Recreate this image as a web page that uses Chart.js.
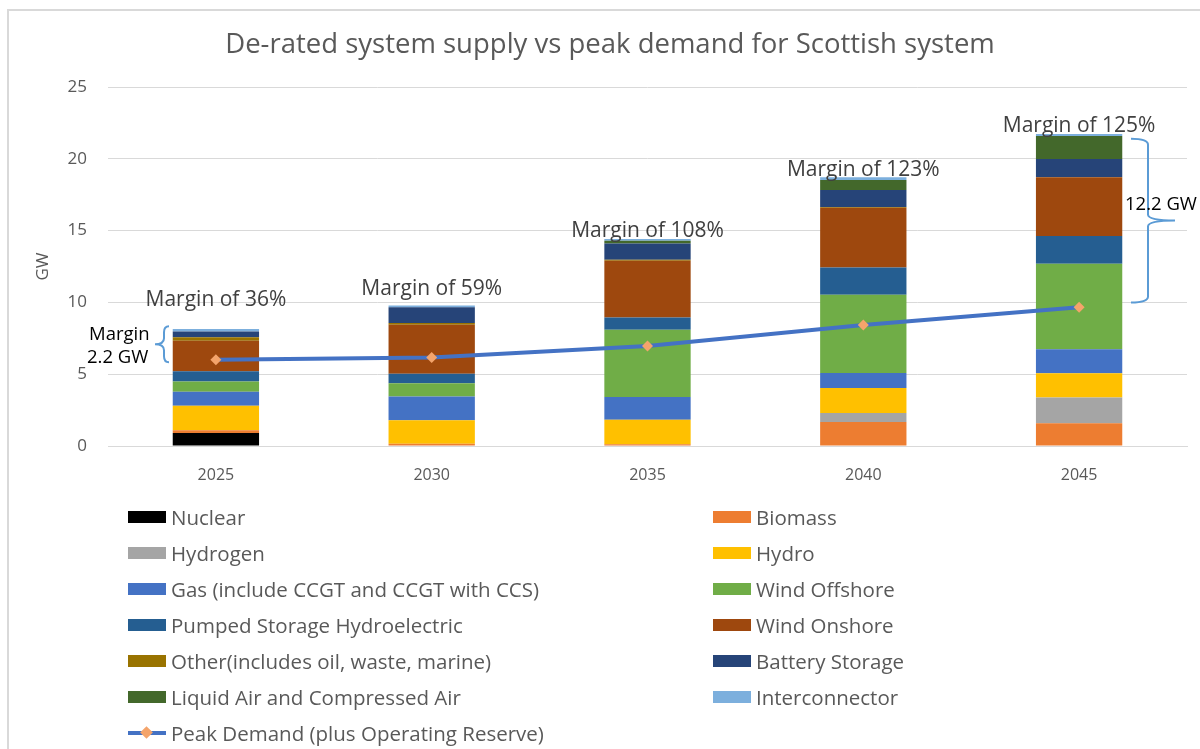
<!DOCTYPE html>
<html>
<head>
<meta charset="utf-8">
<script src="https://cdn.jsdelivr.net/npm/chart.js@4"></script>
<style>
  html, body { margin: 0; padding: 0; background: #fff; overflow: hidden; }
  body { width: 1200px; height: 749px; position: relative; font-family: "Open Sans", sans-serif; }
  #frame { position: absolute; left: 7px; top: 9px; width: 1300px; height: 900px; border: 2px solid #d9d9d9; box-sizing: border-box; }
  #chart { position: absolute; left: 0; top: 0; }
  .item { position: absolute; height: 24px; display: flex; align-items: center; font-size: 20.5px; color: #595959; white-space: nowrap; }
  .swatch { width: 38px; height: 12px; margin-right: 5px; }
  .lineKey { width: 38px; height: 4px; margin-right: 5px; position: relative; }
  .lineKey span { position: absolute; left: 14px; top: -3px; width: 9px; height: 9px; transform: rotate(45deg); }
</style>
</head>
<body>
<div id="frame"></div>
<canvas id="chart" width="1200" height="749"></canvas>
<div id="legend"></div>
<script>
const years = ['2025', '2030', '2035', '2040', '2045']

// de-rated capacity, GW
const nuclear        = [0.9, 0, 0, 0, 0]
const biomass        = [0.2, 0.16, 0.12, 1.67, 1.58]
const hydrogen       = [0, 0, 0, 0.63, 1.79]
const hydro          = [1.7, 1.64, 1.7, 1.74, 1.7]
const gas            = [0.97, 1.64, 1.6, 1.05, 1.67]
const windOffshore   = [0.72, 0.93, 4.67, 5.44, 5.95]
const pumpedStorage  = [0.72, 0.67, 0.86, 1.9, 1.93]
const windOnshore    = [2.12, 3.4, 3.95, 4.16, 4.09]
const other          = [0.25, 0.12, 0.07, 0.05, 0.03]
const battery        = [0.4, 1.1, 1.14, 1.18, 1.25]
const liquidAir      = [0, 0, 0.19, 0.7, 1.6]
const interconnector = [0.16, 0.12, 0.12, 0.19, 0.14]
const peakDemand     = [6.0, 6.16, 6.97, 8.42, 9.67]

const marginLabels = ['Margin of 36%', 'Margin of 59%', 'Margin of 108%', 'Margin of 123%', 'Margin of 125%']
const yTicks = [0, 5, 10, 15, 20, 25]

const bar = (label, data, color) => ({
    type: 'bar', label, data, backgroundColor: color, borderWidth: 0, order: 1,
    barPercentage: 0.4, categoryPercentage: 1
})

const fontFamily = '"Open Sans", sans-serif'

// text labels and the two curly brackets
const notes = {
    id: 'notes',
    afterDatasetsDraw(chart) {
        const { ctx, scales: { x, y } } = chart
        ctx.save()
        ctx.font = '21px ' + fontFamily
        ctx.fillStyle = '#404040'
        ctx.textAlign = 'center'
        ctx.textBaseline = 'middle'
        const labelY = [10.15, 10.9, 14.96, 19.2, 22.3]
        marginLabels.forEach((t, i) => ctx.fillText(t, x.getPixelForValue(i), y.getPixelForValue(labelY[i])))

        const brace = (xEnd, xSpine, xTip, top, bottom) => {
            const mid = (top + bottom) / 2
            const r = 6
            ctx.beginPath()
            ctx.moveTo(xEnd, top)
            ctx.quadraticCurveTo(xSpine, top, xSpine, top + r)
            ctx.lineTo(xSpine, mid - r)
            ctx.quadraticCurveTo(xSpine, mid, xTip, mid)
            ctx.quadraticCurveTo(xSpine, mid, xSpine, mid + r)
            ctx.lineTo(xSpine, bottom - r)
            ctx.quadraticCurveTo(xSpine, bottom, xEnd, bottom)
            ctx.stroke()
        }
        ctx.strokeStyle = '#5b9bd5'
        ctx.lineWidth = 2
        brace(169, 164, 155, y.getPixelForValue(8.34), y.getPixelForValue(5.83))
        brace(1131, 1148, 1175, y.getPixelForValue(21.4), y.getPixelForValue(10.0))

        ctx.fillStyle = '#000'
        ctx.textAlign = 'left'
        ctx.font = '18.5px ' + fontFamily
        ctx.fillText('Margin', 89, 335)
        ctx.fillText('2.2 GW', 87, 358)
        ctx.fillText('12.2 GW', 1125, 205)
        ctx.restore()
    }
}

const chart = new Chart(document.getElementById('chart'), {
    data: {
        labels: years,
        datasets: [
            bar('Nuclear', nuclear, '#000000'),
            bar('Biomass', biomass, '#ed7d31'),
            bar('Hydrogen', hydrogen, '#a5a5a5'),
            bar('Hydro', hydro, '#ffc000'),
            bar('Gas (include CCGT and CCGT with CCS)', gas, '#4472c4'),
            bar('Wind Offshore', windOffshore, '#70ad47'),
            bar('Pumped Storage Hydroelectric', pumpedStorage, '#255e91'),
            bar('Wind Onshore', windOnshore, '#9e480e'),
            bar('Other(includes oil, waste, marine)', other, '#997300'),
            bar('Battery Storage', battery, '#264478'),
            bar('Liquid Air and Compressed Air', liquidAir, '#43682b'),
            bar('Interconnector', interconnector, '#7cafdd'),
            {
                type: 'line', label: 'Peak Demand (plus Operating Reserve)', data: peakDemand, order: 0,
                borderColor: '#4472c4', borderWidth: 4, tension: 0,
                pointStyle: 'rectRot', pointRadius: 5.5, pointBackgroundColor: '#f4a46b', pointBorderColor: '#f4a46b', pointBorderWidth: 0
            }
        ]
    },
    options: {
        responsive: false,
        animation: false,
        devicePixelRatio: 1,
        layout: { padding: { left: 33, right: 13, top: 10, bottom: 259 } },
        plugins: {
            legend: { display: false },
            tooltip: { enabled: false },
            title: {
                display: true,
                text: 'De-rated system supply vs peak demand for Scottish system',
                color: '#595959',
                font: { family: fontFamily, size: 27.5, weight: 'normal' },
                padding: { top: 18.5, bottom: 25.5 }
            }
        },
        scales: {
            x: {
                stacked: true,
                grid: { display: false, drawTicks: false },
                border: { color: '#d9d9d9', width: 1 },
                ticks: { color: '#595959', font: { family: fontFamily, size: 16 }, padding: 20 },
                afterFit: s => { s.height = 44 }
            },
            y: {
                stacked: true,
                min: 0, max: 25,
                afterBuildTicks: s => { s.ticks = yTicks.map(v => ({ value: v })) },
                grid: { color: '#d9d9d9', drawTicks: false },
                border: { display: false },
                ticks: { color: '#595959', font: { family: fontFamily, size: 17 }, padding: 21 },
                title: { display: true, text: 'GW', color: '#595959', font: { family: fontFamily, size: 17 }, padding: 0 },
                afterFit: s => { s.width = 75 }
            }
        }
    },
    plugins: [notes]
})

// two-column legend under the chart
const legend = document.getElementById('legend')
chart.data.datasets.forEach((ds, i) => {
    const item = document.createElement('div')
    item.className = 'item'
    item.style.left = (i % 2 ? 713 : 128) + 'px'
    item.style.top = (517 + 36 * Math.floor(i / 2) - 12) + 'px'
    const key = document.createElement('div')
    if (ds.type === 'line') {
        key.className = 'lineKey'
        key.style.background = ds.borderColor
        const d = document.createElement('span')
        d.style.background = ds.pointBackgroundColor
        key.appendChild(d)
    } else {
        key.className = 'swatch'
        key.style.background = ds.backgroundColor
    }
    item.appendChild(key)
    item.appendChild(document.createTextNode(ds.label))
    legend.appendChild(item)
})
</script>
</body>
</html>
